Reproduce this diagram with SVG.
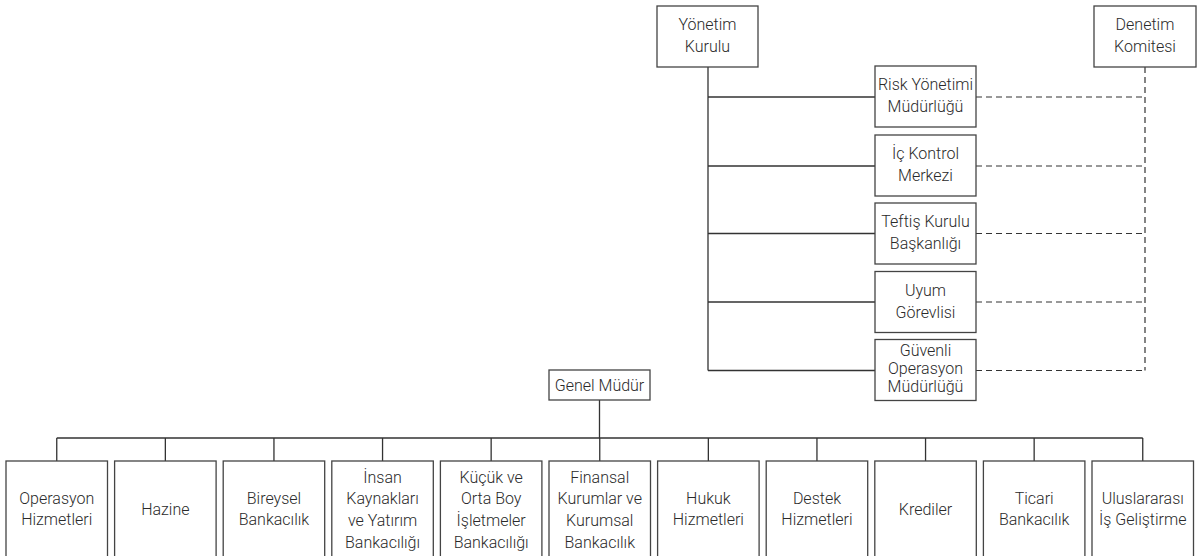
<svg xmlns="http://www.w3.org/2000/svg" width="1200" height="556" viewBox="0 0 1200 556">
<style>
.box{fill:#fff;stroke:#444;stroke-width:1.3}
.t{font-family:Roboto,"Open Sans","Noto Sans",sans-serif;font-size:16px;font-weight:300;fill:#2a2a2a;text-anchor:middle}
.ln{fill:none;stroke:#333;stroke-width:1.3}
.dl{fill:none;stroke:#333;stroke-width:1.2;stroke-dasharray:6 4}
</style>
<rect width="1200" height="556" fill="#fff"/>
<g id="connectors">
<path class="ln" d="M708,67V370.5M708,97H875M708,166H875M708,233.5H875M708,302H875M708,370.5H875"/>
<path class="dl" d="M1145,67V370.5M976,97H1145M976,166H1145M976,233.5H1145M976,302H1145M976,370.5H1145"/>
<path class="ln" d="M599.5,400V438M56.75,438H1142.75M56.75,438V461M165.35,438V461M273.95,438V461M382.55,438V461M491.15,438V461M599.75,438V461M708.35,438V461M816.95,438V461M925.55,438V461M1034.15,438V461M1142.75,438V461"/>
</g>
<g id="yonetim-kurulu"><rect class="box" x="657" y="6" width="101" height="61"/><text class="t" x="707.5" y="30">Yönetim</text><text class="t" x="707.5" y="52">Kurulu</text></g>
<g id="denetim-komitesi"><rect class="box" x="1094" y="6" width="102" height="61"/><text class="t" x="1145" y="30">Denetim</text><text class="t" x="1145" y="52">Komitesi</text></g>
<g id="risk"><rect class="box" x="875" y="66" width="101" height="61"/><text class="t" x="925.5" y="90">Risk Yönetimi</text><text class="t" x="925.5" y="112">Müdürlüğü</text></g>
<g id="ic-kontrol"><rect class="box" x="875" y="135" width="101" height="61"/><text class="t" x="925.5" y="159">İç Kontrol</text><text class="t" x="925.5" y="181">Merkezi</text></g>
<g id="teftis"><rect class="box" x="875" y="203" width="101" height="61"/><text class="t" x="925.5" y="227">Teftiş Kurulu</text><text class="t" x="925.5" y="249">Başkanlığı</text></g>
<g id="uyum"><rect class="box" x="875" y="271.5" width="101" height="61"/><text class="t" x="925.5" y="295.5">Uyum</text><text class="t" x="925.5" y="317.5">Görevlisi</text></g>
<g id="guvenli"><rect class="box" x="875" y="339.5" width="101" height="61"/><text class="t" x="925.5" y="356">Güvenli</text><text class="t" x="925.5" y="374">Operasyon</text><text class="t" x="925.5" y="392">Müdürlüğü</text></g>
<g id="genel-mudur"><rect class="box" x="549" y="370" width="101" height="30"/><text class="t" x="599.5" y="390.5">Genel Müdür</text></g>
<g id="operasyon-hizmetleri"><rect class="box" x="6" y="461" width="101.5" height="97"/><text class="t" x="56.75" y="503.5">Operasyon</text><text class="t" x="56.75" y="525">Hizmetleri</text></g>
<g id="hazine"><rect class="box" x="114.6" y="461" width="101.5" height="97"/><text class="t" x="165.35" y="514.5">Hazine</text></g>
<g id="bireysel"><rect class="box" x="223.2" y="461" width="101.5" height="97"/><text class="t" x="273.95" y="503.5">Bireysel</text><text class="t" x="273.95" y="525">Bankacılık</text></g>
<g id="insan-kaynaklari"><rect class="box" x="331.8" y="461" width="101.5" height="97"/><text class="t" x="382.55" y="482.5">İnsan</text><text class="t" x="382.55" y="504.2">Kaynakları</text><text class="t" x="382.55" y="525.9">ve Yatırım</text><text class="t" x="382.55" y="547.6">Bankacılığı</text></g>
<g id="kobi"><rect class="box" x="440.4" y="461" width="101.5" height="97"/><text class="t" x="491.15" y="482.5">Küçük ve</text><text class="t" x="491.15" y="504.2">Orta Boy</text><text class="t" x="491.15" y="525.9">İşletmeler</text><text class="t" x="491.15" y="547.6">Bankacılığı</text></g>
<g id="finansal-kurumlar"><rect class="box" x="549" y="461" width="101.5" height="97"/><text class="t" x="599.75" y="482.5">Finansal</text><text class="t" x="599.75" y="504.2">Kurumlar ve</text><text class="t" x="599.75" y="525.9">Kurumsal</text><text class="t" x="599.75" y="547.6">Bankacılık</text></g>
<g id="hukuk"><rect class="box" x="657.6" y="461" width="101.5" height="97"/><text class="t" x="708.35" y="503.5">Hukuk</text><text class="t" x="708.35" y="525">Hizmetleri</text></g>
<g id="destek"><rect class="box" x="766.2" y="461" width="101.5" height="97"/><text class="t" x="816.95" y="503.5">Destek</text><text class="t" x="816.95" y="525">Hizmetleri</text></g>
<g id="krediler"><rect class="box" x="874.8" y="461" width="101.5" height="97"/><text class="t" x="925.55" y="514.5">Krediler</text></g>
<g id="ticari"><rect class="box" x="983.4" y="461" width="101.5" height="97"/><text class="t" x="1034.15" y="503.5">Ticari</text><text class="t" x="1034.15" y="525">Bankacılık</text></g>
<g id="uluslararasi"><rect class="box" x="1092" y="461" width="101.5" height="97"/><text class="t" x="1142.75" y="503.5">Uluslararası</text><text class="t" x="1142.75" y="525">İş Geliştirme</text></g>
</svg>
